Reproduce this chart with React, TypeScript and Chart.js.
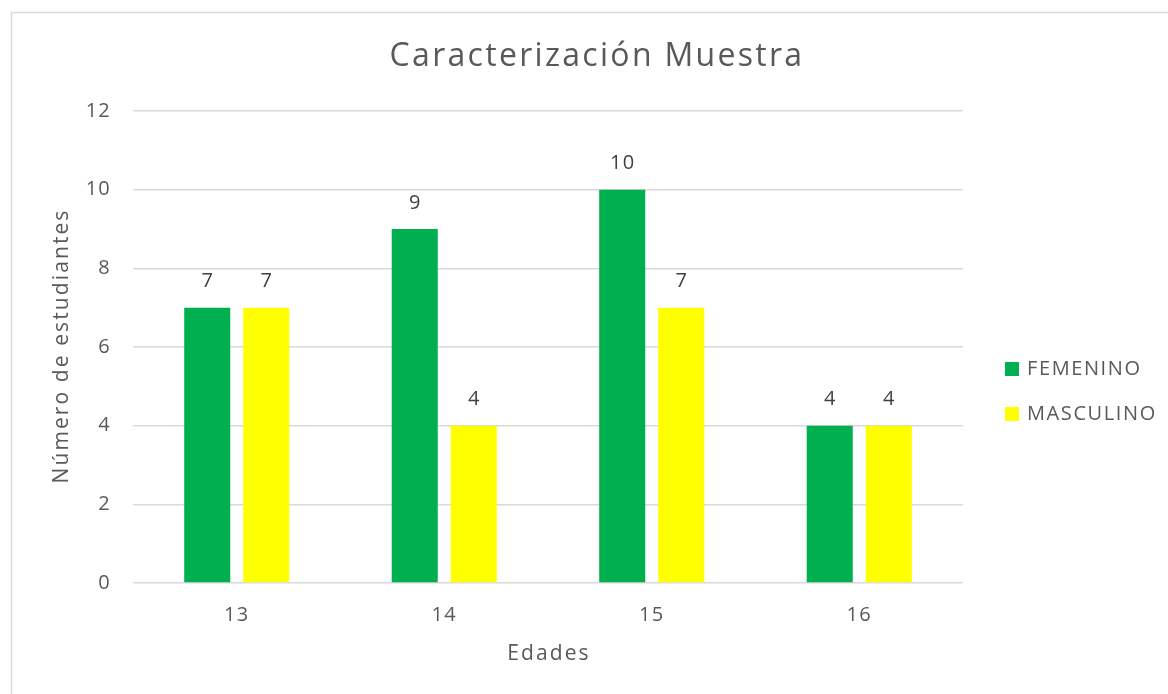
import React, { useEffect, useRef } from "react";
import { Chart, registerables } from "chart.js";

Chart.register(...registerables);

const categories = ["13", "14", "15", "16"];
const femenino = [7, 9, 10, 4];
const masculino = [7, 4, 7, 4];
const seriesNames = ["FEMENINO", "MASCULINO"];
const titleText = "Caracterización Muestra";
const yTitle = "Número de estudiantes";
const xTitle = "Edades";

const FONT = "'Open Sans', Roboto, sans-serif";
const TEXT = "#595959";
const TICK_SPACING = "1.2px";

const spacingPlugin = {
  id: "spacing",
  beforeLayout(chart: any) {
    chart.ctx.letterSpacing = TICK_SPACING;
  },
  beforeDraw(chart: any) {
    chart.ctx.letterSpacing = TICK_SPACING;
  },
};

const framePlugin = {
  id: "frame",
  beforeDraw(chart: any) {
    const ctx = chart.ctx;
    ctx.save();
    ctx.fillStyle = "#ffffff";
    ctx.fillRect(0, 0, chart.width, chart.height);
    ctx.strokeStyle = "#d9d9d9";
    ctx.lineWidth = 1.5;
    ctx.strokeRect(11.5, 12.5, 3000, 3000);
    ctx.restore();
  },
};

const extrasPlugin = {
  id: "extras",
  afterDraw(chart: any) {
    const ctx = chart.ctx;
    const area = chart.chartArea;
    ctx.save();
    ctx.textAlign = "center";
    ctx.textBaseline = "middle";
    // title
    ctx.fillStyle = TEXT;
    ctx.font = `32px ${FONT}`;
    ctx.letterSpacing = "2.3px";
    ctx.fillText(titleText, 597, 57);
    // axis titles
    ctx.font = `21px ${FONT}`;
    ctx.letterSpacing = "2.1px";
    ctx.fillText(xTitle, (area.left + area.right) / 2 + 1, 654);
    ctx.save();
    ctx.translate(62, (area.top + area.bottom) / 2);
    ctx.rotate(-Math.PI / 2);
    ctx.fillText(yTitle, 1, 0);
    ctx.restore();
    // data labels
    ctx.font = `20px ${FONT}`;
    ctx.letterSpacing = "1.2px";
    ctx.fillStyle = "#404040";
    chart.data.datasets.forEach((ds: any, i: number) => {
      const meta = chart.getDatasetMeta(i);
      meta.data.forEach((bar: any, j: number) => {
        ctx.fillText(String(ds.data[j]), bar.x + 0.5, bar.y - 26);
      });
    });
    // legend
    ctx.textAlign = "left";
    ctx.font = `20px ${FONT}`;
    ctx.letterSpacing = "1.6px";
    chart.data.datasets.forEach((ds: any, i: number) => {
      const y = 369 + i * 45;
      ctx.fillStyle = ds.backgroundColor;
      ctx.fillRect(1005, y - 7, 14, 14);
      ctx.fillStyle = TEXT;
      ctx.fillText(ds.label, 1027, y);
    });
    ctx.restore();
  },
};

export default function App() {
  const ref = useRef<HTMLCanvasElement | null>(null);
  useEffect(() => {
    document.body.style.margin = "0";
    const chart = new Chart(ref.current as HTMLCanvasElement, {
      type: "bar",
      data: {
        labels: categories,
        datasets: [
          { label: seriesNames[0], data: femenino, backgroundColor: "#00B050" },
          { label: seriesNames[1], data: masculino, backgroundColor: "#FFFF00" },
        ],
      },
      options: {
        animation: false,
        responsive: false,
        maintainAspectRatio: false,
        layout: { padding: { left: 0, right: 205, top: 111, bottom: 0 } },
        datasets: { bar: { categoryPercentage: 0.569, barPercentage: 0.78 } },
        plugins: { legend: { display: false }, title: { display: false }, tooltip: { enabled: false } },
        scales: {
          x: {
            grid: { display: false, drawTicks: false },
            border: { display: false },
            ticks: { color: TEXT, font: { family: FONT, size: 20 }, padding: 20 },
            afterFit: (s: any) => { s.height = 111; },
          },
          y: {
            min: 0,
            max: 12,
            ticks: { stepSize: 2, color: TEXT, font: { family: FONT, size: 20 }, padding: 22 },
            grid: { color: "#d9d9d9", lineWidth: 1.5, drawTicks: false },
            border: { display: false },
            afterFit: (s: any) => { s.width = 133; },
          },
        },
      },
      plugins: [spacingPlugin, framePlugin, extrasPlugin],
    } as any);
    return () => chart.destroy();
  }, []);
  return (
    <div style={{ width: 1168, height: 694 }}>
      <canvas ref={ref} width={1168} height={694} style={{ display: "block" }} />
    </div>
  );
}
